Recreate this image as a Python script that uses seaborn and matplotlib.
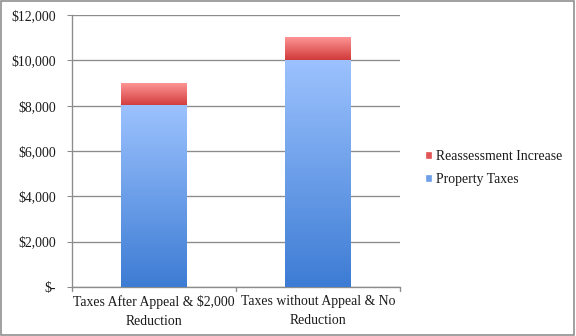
import numpy as np
import pandas as pd
import matplotlib
matplotlib.use("Agg")
import matplotlib.pyplot as plt
from matplotlib.colors import LinearSegmentedColormap
from matplotlib.patches import Patch, Rectangle
import seaborn as sns

categories = ["Taxes After Appeal & \\$2,000\nReduction", "Taxes without Appeal & No\nReduction"]
property_taxes = [8000, 10000]
reassessment = [1000, 1000]
yticks = [0, 2000, 4000, 6000, 8000, 10000, 12000]
ytick_labels = ["\\$-", "\\$2,000", "\\$4,000", "\\$6,000", "\\$8,000", "\\$10,000", "\\$12,000"]

sns.set_style("white")
plt.rcParams['font.family'] = ['Liberation Serif', 'DejaVu Serif']
FS = 10.3

fig = plt.figure(figsize=(6, 3.5), dpi=96)
ax = fig.add_axes([0.125, 0.146, 0.569, 0.809])

df = pd.DataFrame({"cat": categories, "prop": property_taxes,
                   "total": [p + r for p, r in zip(property_taxes, reassessment)]})
sns.barplot(data=df, x="cat", y="total", color="#E05555", width=0.4, ax=ax, zorder=2)
sns.barplot(data=df, x="cat", y="prop", color="#6E9FE8", width=0.4, ax=ax, zorder=2)

ax.set_xlim(-0.5, 1.5)
ax.set_ylim(0, 12000)

blue = LinearSegmentedColormap.from_list("b", ["#3D7CD4", "#9CC2FE"])
red = LinearSegmentedColormap.from_list("r", ["#D03A3A", "#FF9494"])
grad = np.linspace(0, 1, 256).reshape(-1, 1)
n = len(categories)
patches = list(ax.patches)
for i, p in enumerate(patches):
    x0, y0 = p.get_x(), p.get_y()
    w, h = p.get_width(), p.get_height()
    if i < n:
        y0 = property_taxes[i]
        h = reassessment[i]
        cmap = red
    else:
        cmap = blue
    ax.imshow(grad, extent=[x0, x0 + w, y0, y0 + h], origin="lower",
              cmap=cmap, aspect="auto", zorder=3, interpolation="bicubic")
    p.set_visible(False)

ax.set_xlim(-0.5, 1.5)
ax.set_ylim(0, 12000)

ax.set_yticks(yticks)
ax.set_yticklabels(ytick_labels, fontsize=FS, color="#1A1A1A")
ax.yaxis.grid(True, color="#8C8C8C", linewidth=1, zorder=0)
ax.set_axisbelow(True)
ax.set_xlabel("")
ax.set_ylabel("")
ax.set_xticks([0, 1])
ax.set_xticklabels(categories, fontsize=FS, color="#1A1A1A", linespacing=1.6)
ax.tick_params(axis="x", length=0, pad=6)
ax.tick_params(axis="y", length=4, color="#8C8C8C", direction="out", left=True, pad=8)
for b in [-0.5, 0.5, 1.5]:
    ax.plot([b, b], [0, -200], color="#8C8C8C", lw=1, clip_on=False)
for s in ["top", "right"]:
    ax.spines[s].set_visible(False)
for s in ["left", "bottom"]:
    ax.spines[s].set_color("#8C8C8C")
    ax.spines[s].set_linewidth(1)

handles = [Patch(facecolor="#E05555", label="Reassessment Increase"),
           Patch(facecolor="#6E9FE8", label="Property Taxes")]
fig.legend(handles=handles, loc="center left", bbox_to_anchor=(0.716, 0.50),
           frameon=False, fontsize=FS, handlelength=0.55, handleheight=0.55,
           handletextpad=0.3, labelspacing=0.7, labelcolor="#1A1A1A")

fig.patches.append(Rectangle((0.002, 0.003), 0.995, 0.994, transform=fig.transFigure,
                             fill=False, edgecolor="#8C8C8C", linewidth=1.2))

fig.savefig("out.png", dpi=96)
